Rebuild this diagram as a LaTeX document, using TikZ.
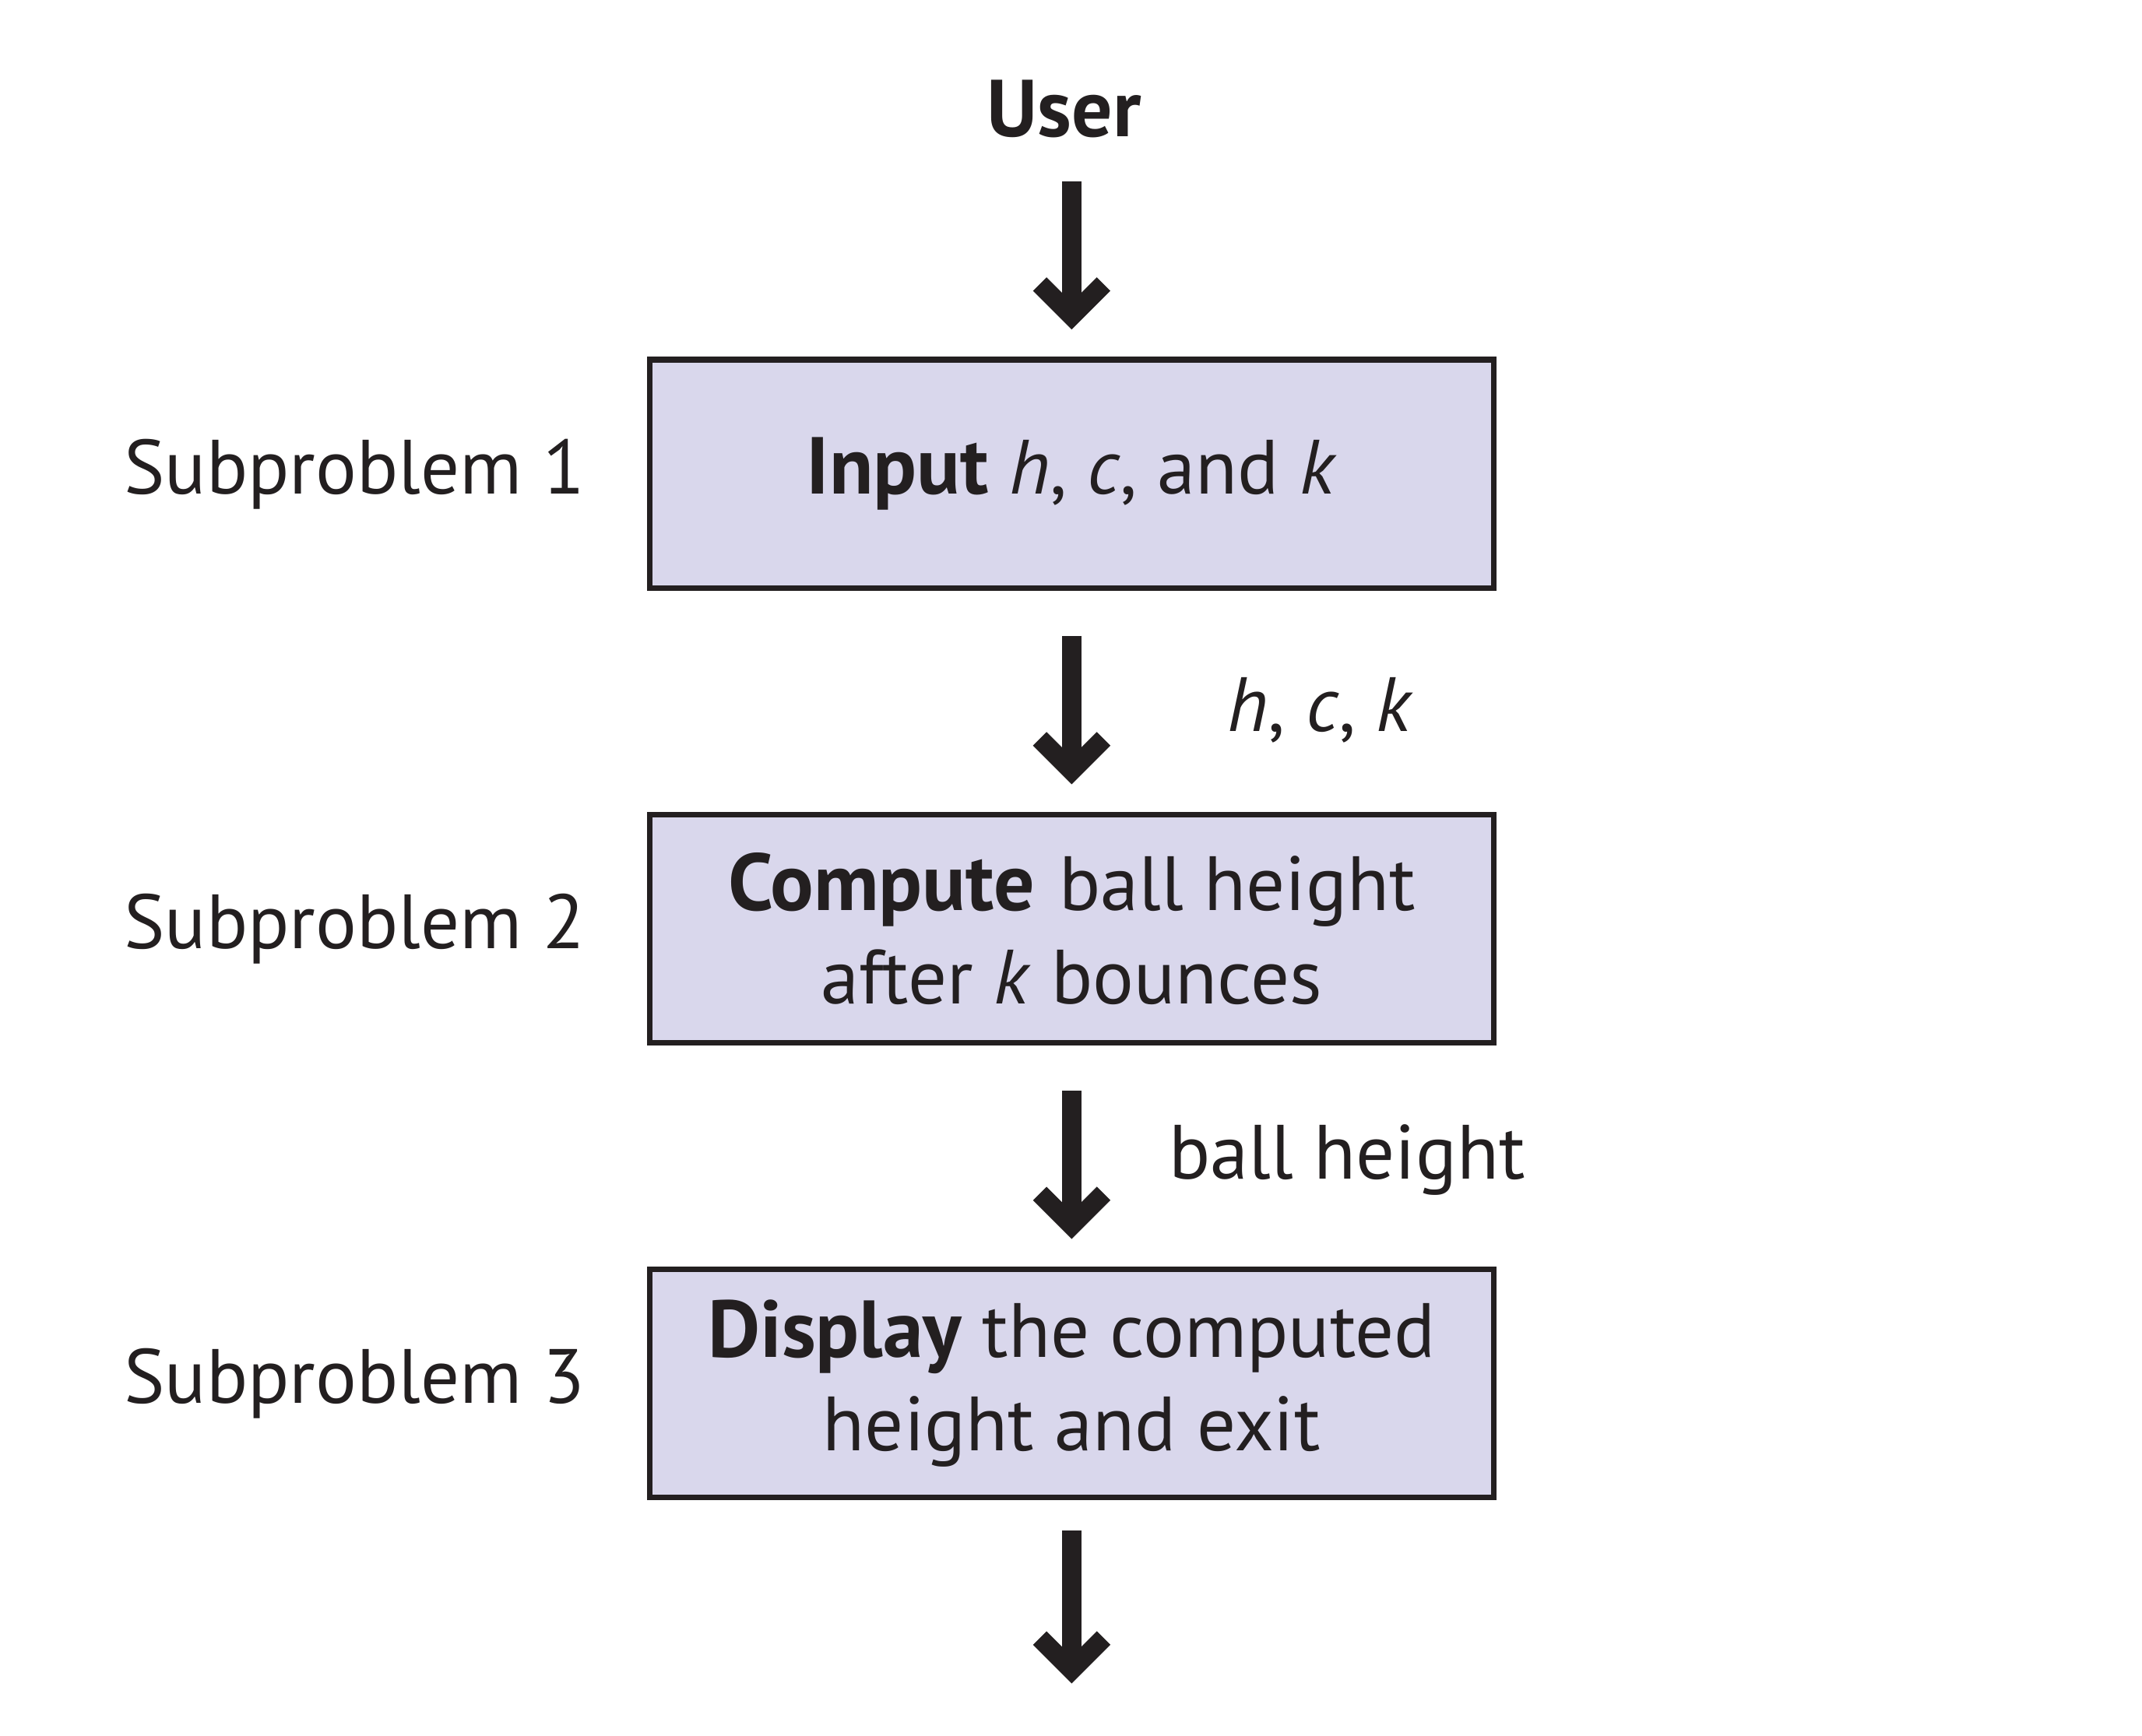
\documentclass[tikz,border=0pt]{standalone}
\usepackage{fontspec}
\setmainfont{PT Sans}
\usetikzlibrary{arrows.meta,positioning}
\definecolor{boxfill}{RGB}{217,215,236}
\definecolor{ink}{RGB}{35,31,32}
\newcommand{\kw}[1]{{\fontsize{16.8}{19.4}\selectfont\bfseries #1}}

\begin{document}
\begin{tikzpicture}[node distance=3.325cm,
  stage/.style={draw=ink, fill=boxfill, line width=1.15pt, minimum width=6.17cm, minimum height=1.67cm, align=center, text=ink, font=\fontsize{16}{19.4}\selectfont},
  sublabel/.style={anchor=west, inner sep=0pt, text=ink, font=\fontsize{16}{19.4}\selectfont},
  flowlabel/.style={anchor=base west, inner sep=0pt, text=ink, font=\fontsize{16}{19.4}\selectfont},
  flow/.style={draw=ink, line width=4pt, -{Straight Barb[sharp, angle=90:0.33cm]}}]

  \useasboundingbox (0,0) rectangle (15.66,-12.69);

  % Boxes
  \node[stage] (in) at (7.835,-3.465) {\kw{Input} \textit{h}, \textit{c}, and \textit{k}};
  \node[stage, below of=in] (comp) {\kw{Compute}\hspace{0.05em} ball height\\after \textit{k} bounces};
  \node[stage, below of=comp] (disp) {\kw{Display} the computed\\height and exit};

  % Top and bottom ends
  \node[anchor=base, inner sep=0pt, text=ink] (user) at (7.78,-1.00) {\kw{User}};
  \coordinate[below=1.34cm of disp] (out);

  % Labels on the left
  \node[sublabel] (sub1) at (0.90,0 |- in) {Subproblem 1};
  \node[sublabel] (sub2) at (0.90,0 |- comp) {Subproblem 2};
  \node[sublabel] (sub3) at (0.90,0 |- disp) {Subproblem 3};

  % Arrows
  \draw[flow, shorten <=0.31cm, shorten >=0.2cm] (in.north |- user.south) -- (in.north);
  \draw[flow, shorten <=0.33cm, shorten >=0.2cm] (in) -- node[flowlabel, xshift=1.07cm, yshift=-0.22cm] {\textit{h}, \textit{c}, \textit{k}} (comp);
  \draw[flow, shorten <=0.33cm, shorten >=0.2cm] (comp) -- node[flowlabel, xshift=0.64cm, yshift=-0.17cm] {ball height} (disp);
  \draw[flow, shorten <=0.22cm] (disp) -- (out);

\end{tikzpicture}
\end{document}
